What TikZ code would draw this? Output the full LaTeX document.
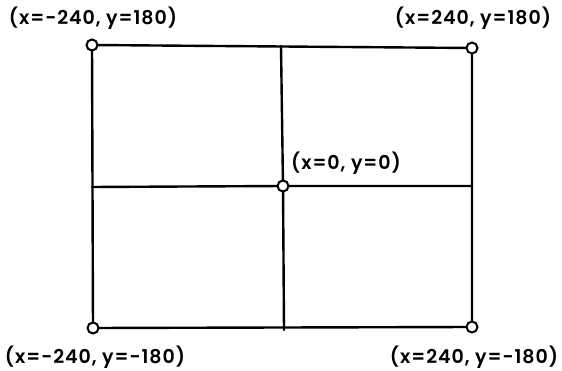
\documentclass[tikz,border=0pt]{standalone}
\usepackage{fontspec}
\setmainfont{Poppins}[UprightFont=* Medium, BoldFont=* SemiBold, LetterSpace=5]
\begin{document}
\begin{tikzpicture}[x=1pt,y=-1pt,
  edge/.style={line width=2.4pt,line cap=round,line join=round},
  pt/.style={circle,draw,line width=2pt,fill=white,inner sep=0pt,minimum size=11pt},
  lbl/.style={font=\fontsize{19}{22}\selectfont\bfseries,inner sep=0pt}]
\useasboundingbox (0,0) rectangle (562,371);
\coordinate (tm) at (281,46);
\coordinate (bm) at (284,330);
\coordinate (lm) at (92,187);
\coordinate (rm) at (472,186);
\draw[edge] (92,45) -- (472,48) -- (472,327) -- (93,328) -- cycle;
\draw[edge] (tm) -- (283,186) -- (bm);
\draw[edge] (lm) -- (283,186) -- (rm);
\node[pt] (tl) at (92,45) {};
\node[pt] (tr) at (472,48) {};
\node[pt] (bl) at (93,328) {};
\node[pt] (br) at (472,327) {};
\node[pt] (c) at (283,186) {};
\node[lbl] (ltl) at (93,18) {(x=-240, y=180)};
\node[lbl] (ltr) at (473,18) {(x=240, y=180)};
\node[lbl] (lc) at (346,163) {(x=0, y=0)};
\node[lbl] (lbl1) at (95,357) {(x=-240, y=-180)};
\node[lbl] (lbr) at (474,357) {(x=240, y=-180)};
\end{tikzpicture}
\end{document}
